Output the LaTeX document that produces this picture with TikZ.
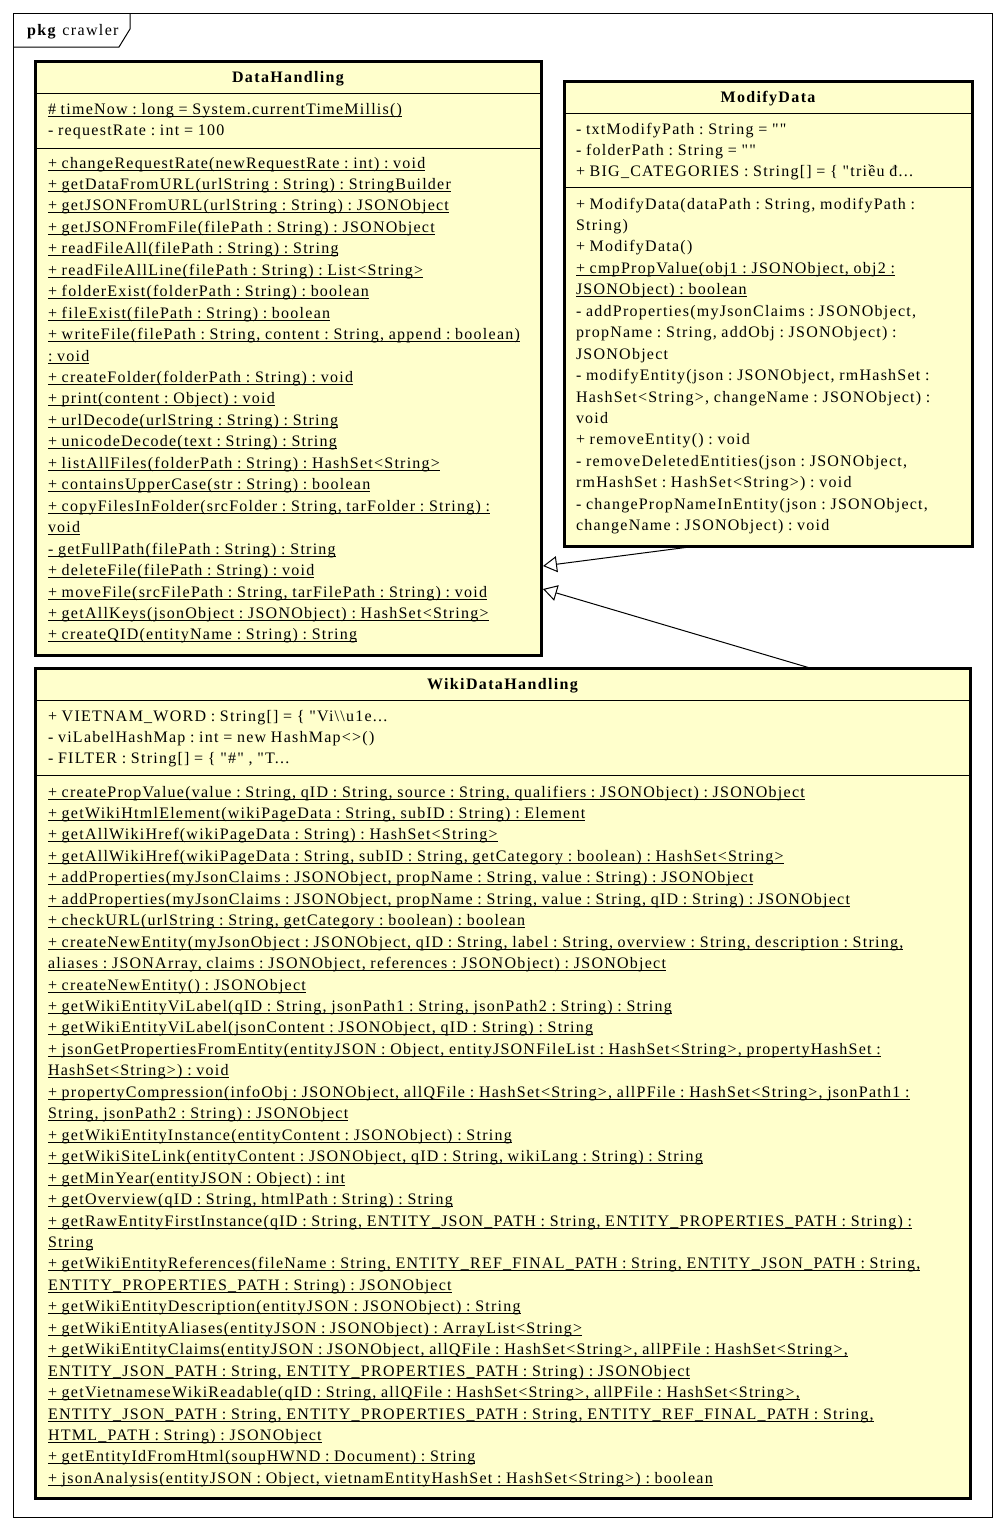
\documentclass[tikz,border=0pt]{standalone}
\usepackage{fontspec}
\setmainfont{Liberation Serif}
\newfontfamily\umlfont{Liberation Serif}[LetterSpace=7.8, WordSpace=0.9]
\newfontfamily\umltitlefont{Liberation Serif}[LetterSpace=8.5]
\usetikzlibrary{arrows.meta}
\definecolor{classfill}{RGB}{255,255,204}
\newcommand\ulx[1]{\setbox0\hbox{#1}\rlap{\rule[-2.4pt]{\wd0}{0.9pt}}\box0}
\newcommand\plainx[1]{#1}
\newcommand\tdots{...}
\newcommand\classlines[5]{\foreach \lineitem [count=\i] in {#5} {\node[txt] (#1\i) at ({#2},{#3+21.45*(\i-1)}) {#4{\lineitem}};}}
\tikzset{
  txt/.style={anchor=base west, inner sep=0pt, outer sep=0pt, font=\fontsize{16}{19}\umlfont\frenchspacing},
  titletxt/.style={anchor=base, inner sep=0pt, font=\fontsize{16}{19}\umltitlefont\bfseries\frenchspacing},
  classbox/.style={draw=black, line width=3pt, fill=classfill, anchor=north west, inner sep=0pt, outer sep=0pt},
  sepline/.style={draw=black, line width=1pt},
  genarrow/.style={draw=black, line width=1pt, -{Triangle[open, length=14pt, width=16pt, line width=1pt]}},
}
\begin{document}
\begin{tikzpicture}[x=1pt, y=-1pt]
\useasboundingbox (0,0) rectangle (1005,1532);
% package frame
\draw[line width=1pt] (13,13) rectangle (992,1517);
\draw[line width=1pt] (13,47) -- (119,47) -- (130,29) -- (130,13);
\node[anchor=base west, inner sep=0pt, font=\fontsize{16}{19}\umltitlefont] (pkglabel) at (27,35) {\textbf{pkg} crawler};

% DataHandling
\node[classbox, minimum width=506pt, minimum height=594pt] (dh) at (35,61) {};
\draw[sepline] (35,93) -- (541,93);
\draw[sepline] (35,148) -- (541,148);
\node[titletxt] (dht) at (288,82) {DataHandling};
\classlines{dha}{48}{114}{\plainx}{{\ulx{\# timeNow : long = System.currentTimeMillis()}},{- requestRate : int = 100}}
\classlines{dhm}{48}{168}{\ulx}{
{+ changeRequestRate(newRequestRate : int) : void},
{+ getDataFromURL(urlString : String) : StringBuilder},
{+ getJSONFromURL(urlString : String) : JSONObject},
{+ getJSONFromFile(filePath : String) : JSONObject},
{+ readFileAll(filePath : String) : String},
{+ readFileAllLine(filePath : String) : List<String>},
{+ folderExist(folderPath : String) : boolean},
{+ fileExist(filePath : String) : boolean},
{+ writeFile(filePath : String, content : String, append : boolean)},
{: void},
{+ createFolder(folderPath : String) : void},
{+ print(content : Object) : void},
{+ urlDecode(urlString : String) : String},
{+ unicodeDecode(text : String) : String},
{+ listAllFiles(folderPath : String) : HashSet<String>},
{+ containsUpperCase(str : String) : boolean},
{+ copyFilesInFolder(srcFolder : String, tarFolder : String) :},
{void},
{- getFullPath(filePath : String) : String},
{+ deleteFile(filePath : String) : void},
{+ moveFile(srcFilePath : String, tarFilePath : String) : void},
{+ getAllKeys(jsonObject : JSONObject) : HashSet<String>},
{+ createQID(entityName : String) : String}}

% ModifyData
\node[classbox, minimum width=408pt, minimum height=465pt] (md) at (564,81) {};
\draw[sepline] (564,113) -- (972,113);
\draw[sepline] (564,187) -- (972,187);
\node[titletxt] (mdt) at (768,102) {ModifyData};
\classlines{mda}{576}{134}{\plainx}{
{- txtModifyPath : String = ""},
{- folderPath : String = ""},
{+ BIG\_CATEGORIES : String[] = \{ "triều đ\tdots}}
\classlines{mdm}{576}{209}{\plainx}{
{+ ModifyData(dataPath : String, modifyPath :},
{String)},
{+ ModifyData()},
{\ulx{+ cmpPropValue(obj1 : JSONObject, obj2 :}},
{\ulx{JSONObject) : boolean}},
{- addProperties(myJsonClaims : JSONObject,},
{propName : String, addObj : JSONObject) :},
{JSONObject},
{- modifyEntity(json : JSONObject, rmHashSet :},
{HashSet<String>, changeName : JSONObject) :},
{void},
{+ removeEntity() : void},
{- removeDeletedEntities(json : JSONObject,},
{rmHashSet : HashSet<String>) : void},
{- changePropNameInEntity(json : JSONObject,},
{changeName : JSONObject) : void}}

% WikiDataHandling
\node[classbox, minimum width=935pt, minimum height=830pt] (wk) at (35,668) {};
\draw[sepline] (35,700) -- (970,700);
\draw[sepline] (35,775) -- (970,775);
\node[titletxt] (wkt) at (502.5,689) {WikiDataHandling};
\classlines{wka}{48}{721}{\plainx}{
{+ VIETNAM\_WORD : String[] = \{ "Vi\textbackslash\textbackslash u1e\tdots},
{- viLabelHashMap : int = new HashMap<>()},
{- FILTER : String[] = \{ "\#" , "T\tdots}}
\classlines{wkm}{48}{797}{\ulx}{
{+ createPropValue(value : String, qID : String, source : String, qualifiers : JSONObject) : JSONObject},
{+ getWikiHtmlElement(wikiPageData : String, subID : String) : Element},
{+ getAllWikiHref(wikiPageData : String) : HashSet<String>},
{+ getAllWikiHref(wikiPageData : String, subID : String, getCategory : boolean) : HashSet<String>},
{+ addProperties(myJsonClaims : JSONObject, propName : String, value : String) : JSONObject},
{+ addProperties(myJsonClaims : JSONObject, propName : String, value : String, qID : String) : JSONObject},
{+ checkURL(urlString : String, getCategory : boolean) : boolean},
{+ createNewEntity(myJsonObject : JSONObject, qID : String, label : String, overview : String, description : String,},
{aliases : JSONArray, claims : JSONObject, references : JSONObject) : JSONObject},
{+ createNewEntity() : JSONObject},
{+ getWikiEntityViLabel(qID : String, jsonPath1 : String, jsonPath2 : String) : String},
{+ getWikiEntityViLabel(jsonContent : JSONObject, qID : String) : String},
{+ jsonGetPropertiesFromEntity(entityJSON : Object, entityJSONFileList : HashSet<String>, propertyHashSet :},
{HashSet<String>) : void},
{+ propertyCompression(infoObj : JSONObject, allQFile : HashSet<String>, allPFile : HashSet<String>, jsonPath1 :},
{String, jsonPath2 : String) : JSONObject},
{+ getWikiEntityInstance(entityContent : JSONObject) : String},
{+ getWikiSiteLink(entityContent : JSONObject, qID : String, wikiLang : String) : String},
{+ getMinYear(entityJSON : Object) : int},
{+ getOverview(qID : String, htmlPath : String) : String},
{+ getRawEntityFirstInstance(qID : String, ENTITY\_JSON\_PATH : String, ENTITY\_PROPERTIES\_PATH : String) :},
{String},
{+ getWikiEntityReferences(fileName : String, ENTITY\_REF\_FINAL\_PATH : String, ENTITY\_JSON\_PATH : String,},
{ENTITY\_PROPERTIES\_PATH : String) : JSONObject},
{+ getWikiEntityDescription(entityJSON : JSONObject) : String},
{+ getWikiEntityAliases(entityJSON : JSONObject) : ArrayList<String>},
{+ getWikiEntityClaims(entityJSON : JSONObject, allQFile : HashSet<String>, allPFile : HashSet<String>,},
{ENTITY\_JSON\_PATH : String, ENTITY\_PROPERTIES\_PATH : String) : JSONObject},
{+ getVietnameseWikiReadable(qID : String, allQFile : HashSet<String>, allPFile : HashSet<String>,},
{ENTITY\_JSON\_PATH : String, ENTITY\_PROPERTIES\_PATH : String, ENTITY\_REF\_FINAL\_PATH : String,},
{HTML\_PATH : String) : JSONObject},
{+ getEntityIdFromHtml(soupHWND : Document) : String},
{+ jsonAnalysis(entityJSON : Object, vietnamEntityHashSet : HashSet<String>) : boolean}}

% generalizations
\coordinate (mdtail) at (697,546);
\coordinate (dhtip1) at (543,566);
\coordinate (wktail) at (810,668);
\coordinate (dhtip2) at (543,589);
\draw[genarrow] (mdtail) -- (dhtip1);
\draw[genarrow] (wktail) -- (dhtip2);
\end{tikzpicture}
\end{document}
